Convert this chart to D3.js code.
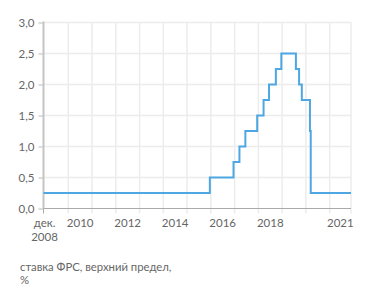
<!DOCTYPE html>
<html><head><meta charset="utf-8">
<script src="https://cdn.jsdelivr.net/npm/d3@7"></script>
<style>body{margin:0;background:#fff}svg{display:block}text{font-family:Lato,"Open Sans",sans-serif}</style>
</head><body><svg id="c" width="371" height="301"></svg>
<script>
// Fed funds upper bound change points (date, value %)
const dates = ["2008-12-16","2015-12-17","2016-12-15","2017-03-16","2017-06-15","2017-12-14","2018-03-22","2018-06-14","2018-09-27","2018-12-20","2019-08-01","2019-09-19","2019-10-31","2020-03-04","2020-03-16","2021-11-25"];
const values = [0.25,0.5,0.75,1.0,1.25,1.5,1.75,2.0,2.25,2.5,2.25,2.0,1.75,1.25,0.25,0.25];
const yTicks = [0,0.5,1.0,1.5,2.0,2.5,3.0];
const gridYears = [2010,2011,2012,2013,2014,2015,2016,2017,2018,2019,2020,2021];
const labelYears = [2010,2012,2014,2016,2018,2021];
const firstLabel = ["дек.","2008"];
const caption = ["ставка ФРС, верхний предел,","%"];

const parse = d3.timeParse("%Y-%m-%d");
const data = dates.map((d,i)=>({date:parse(d), v:values[i]}));
const svg = d3.select("#c");
const m = {l:43.5, r:351, t:22.5, b:208.5};
const x = d3.scaleTime().domain([data[0].date, data[data.length-1].date]).range([m.l, m.r]);
const y = d3.scaleLinear().domain([0,3]).range([m.b, m.t]);
const fmt = d3.format(".1f");
const txt = "#666";
const fs = 11.5;

// vertical grid
svg.append("g").selectAll("line").data(gridYears).join("line")
  .attr("x1",d=>x(new Date(d,0,1))).attr("x2",d=>x(new Date(d,0,1)))
  .attr("y1",m.t).attr("y2",m.b+5).attr("stroke","#ececec").attr("stroke-width",1.5);
svg.append("line").attr("x1",m.r).attr("x2",m.r).attr("y1",m.t).attr("y2",m.b+5).attr("stroke","#ececec").attr("stroke-width",1.5);
// horizontal grid
svg.append("g").selectAll("line").data(yTicks.slice(1)).join("line")
  .attr("x1",m.l).attr("x2",m.r).attr("y1",d=>y(d)).attr("y2",d=>y(d))
  .attr("stroke","#ececec").attr("stroke-width",1.5);

// y axis
const ya = svg.append("g").attr("transform",`translate(${m.l},0)`)
  .call(d3.axisLeft(y).tickValues(yTicks).tickSize(5).tickPadding(4).tickFormat(d=>fmt(d).replace(".",",")));
ya.select(".domain").remove();
ya.selectAll(".tick line").attr("stroke","#bbb");
ya.selectAll("text").attr("fill",txt).attr("font-size",fs);
svg.append("line").attr("x1",m.l).attr("x2",m.l).attr("y1",m.t-1).attr("y2",m.b)
  .attr("stroke","#c4c4c4").attr("stroke-width",2);

// x axis baseline and ticks
svg.append("line").attr("x1",m.l).attr("x2",m.r).attr("y1",m.b).attr("y2",m.b).attr("stroke","#aaa").attr("stroke-width",1);
svg.append("line").attr("x1",m.l).attr("x2",m.l).attr("y1",m.b).attr("y2",m.b+5).attr("stroke","#aaa");

// x labels
const xl = svg.append("g").attr("fill",txt).attr("font-size",fs).attr("text-anchor","middle");
xl.selectAll("text.yr").data(labelYears).join("text").attr("class","yr")
  .attr("x",d=>(x(new Date(d,0,1))+x(d===2021?data[data.length-1].date:new Date(d+1,0,1)))/2)
  .attr("y",227).text(d=>d);
xl.selectAll("text.first").data(firstLabel).join("text").attr("class","first")
  .attr("x",x(data[0].date)+1).attr("y",(d,i)=>227+i*13.5).text(d=>d);

// line
svg.append("path").datum(data)
  .attr("d",d3.line().x(d=>x(d.date)).y(d=>y(d.v)).curve(d3.curveStepAfter))
  .attr("fill","none").attr("stroke","#4ea7e2").attr("stroke-width",2);

// caption
svg.append("g").attr("fill",txt).attr("font-size",11.3).selectAll("text").data(caption).join("text")
  .attr("x",20).attr("y",(d,i)=>271+i*12.5).text(d=>d);
</script></body></html>
